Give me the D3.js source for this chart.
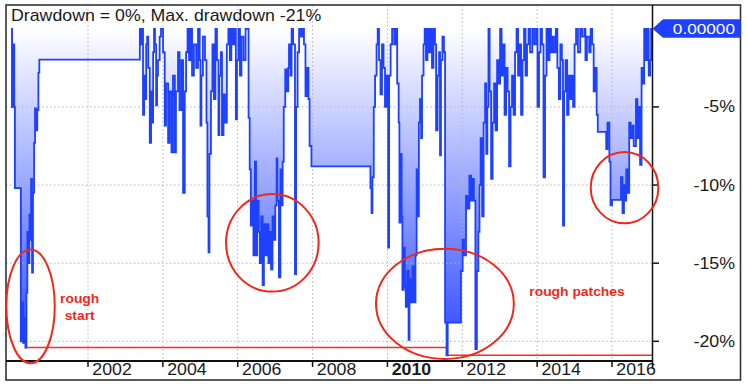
<!DOCTYPE html>
<html lang="en">
<head>
<meta charset="UTF-8">
<title>Drawdown</title>
<script src="https://d3js.org/d3.v7.min.js"></script>
<style>
  body { margin: 0; background: #fff; }
  svg { display: block; }
  text { font-family: "Liberation Sans", Arial, sans-serif; }
</style>
</head>
<body>
<div id="chart"></div>
<script>
// drawdown series (decimal year, percent)
const dates = [
  1999.95, 1999.97, 2000.01, 2000.03, 2000.045, 2000.205, 2000.24, 2000.27, 2000.29, 2000.33,
  2000.355, 2000.38, 2000.405, 2000.435, 2000.46, 2000.48, 2000.505, 2000.53, 2000.56, 2000.585,
  2000.62, 2000.645, 2000.675, 2000.70,
  2003.385, 2003.42, 2003.45, 2003.47, 2003.50, 2003.53, 2003.555, 2003.58, 2003.61, 2003.65,
  2003.685, 2003.71, 2003.74, 2003.765, 2003.79, 2003.82, 2003.845, 2003.87, 2003.915, 2003.95,
  2004.005, 2004.05, 2004.085, 2004.14, 2004.18, 2004.23, 2004.27, 2004.32, 2004.35, 2004.405,
  2004.445, 2004.495, 2004.54, 2004.585, 2004.62, 2004.66, 2004.70, 2004.74, 2004.78, 2004.83,
  2004.89, 2004.94, 2004.985, 2005.005, 2005.03, 2005.07, 2005.125, 2005.165, 2005.19, 2005.22,
  2005.245, 2005.285, 2005.325, 2005.365, 2005.405, 2005.445, 2005.485, 2005.51, 2005.55, 2005.58,
  2005.62, 2005.66, 2005.71, 2005.75, 2005.79, 2005.83, 2005.87, 2005.91, 2005.95, 2005.98,
  2006.02, 2006.06, 2006.10, 2006.155, 2006.21,
  2006.29, 2006.32, 2006.35, 2006.39, 2006.42, 2006.46, 2006.49, 2006.52, 2006.56, 2006.59,
  2006.63, 2006.665, 2006.70, 2006.74, 2006.78, 2006.82, 2006.86, 2006.89, 2006.93, 2006.97,
  2007.005, 2007.04, 2007.06, 2007.10, 2007.14, 2007.17, 2007.20, 2007.23, 2007.27, 2007.31,
  2007.35, 2007.37, 2007.41, 2007.44, 2007.48, 2007.53, 2007.56, 2007.60, 2007.64, 2007.69,
  2007.73, 2007.77, 2007.81, 2007.85, 2007.89, 2007.92, 2007.97,
  2009.545, 2009.575, 2009.60, 2009.635, 2009.67, 2009.71, 2009.74, 2009.775, 2009.815, 2009.855,
  2009.895, 2009.935, 2009.975, 2010.02, 2010.045, 2010.085, 2010.125, 2010.18, 2010.22, 2010.26,
  2010.30, 2010.32, 2010.35, 2010.38, 2010.40, 2010.435, 2010.465, 2010.49, 2010.53, 2010.565,
  2010.59, 2010.63, 2010.67, 2010.71, 2010.75, 2010.78, 2010.81, 2010.84, 2010.87, 2010.90,
  2010.925, 2010.965, 2010.995, 2011.03, 2011.07, 2011.11, 2011.15, 2011.19, 2011.23, 2011.27,
  2011.30, 2011.34, 2011.38, 2011.405, 2011.43, 2011.47, 2011.51, 2011.54, 2011.58, 2011.61,
  2011.965, 2012.01, 2012.045, 2012.10, 2012.14, 2012.19, 2012.235, 2012.275, 2012.31, 2012.35,
  2012.39, 2012.43, 2012.46, 2012.49, 2012.53, 2012.57, 2012.61, 2012.64, 2012.67, 2012.70,
  2012.73, 2012.77, 2012.81, 2012.85, 2012.89, 2012.93, 2012.97, 2013.01, 2013.05, 2013.09,
  2013.13, 2013.17, 2013.21, 2013.25, 2013.29, 2013.33, 2013.37, 2013.41, 2013.45, 2013.49,
  2013.53, 2013.57, 2013.61, 2013.65, 2013.69, 2013.73, 2013.77, 2013.81, 2013.87, 2013.92,
  2013.97, 2014.01, 2014.05, 2014.09, 2014.13, 2014.17, 2014.21, 2014.25, 2014.29, 2014.33,
  2014.37, 2014.41, 2014.45, 2014.50, 2014.54, 2014.58, 2014.62, 2014.66, 2014.69, 2014.72,
  2014.76, 2014.80, 2014.84, 2014.88, 2014.92, 2014.96, 2015.00, 2015.04, 2015.09, 2015.15,
  2015.20, 2015.26, 2015.29, 2015.33, 2015.39, 2015.43, 2015.47, 2015.51, 2015.55, 2015.59,
  2015.62, 2015.845, 2015.88, 2015.93, 2015.96, 2016.00, 2016.24, 2016.28, 2016.32, 2016.34,
  2016.38, 2016.42, 2016.46, 2016.50, 2016.55, 2016.58, 2016.64, 2016.68, 2016.72, 2016.75,
  2016.79, 2016.82, 2016.86, 2016.90, 2016.94, 2016.98, 2017.02, 2017.045, 2017.07
];
const drawdown = [
  0, -5.0, -1.0, -5.0, -10.2, -20.0, -17.5, -20.1, -18.5, -20.4,
  -16.9, -13.0, -15.0, -11.9, -13.5, -9.6, -15.6, -10.5, -7.3, -5.1,
  -6.5, -5.2, -2.8, -1.97,
  0, -1.0, 0, -5.5, -3.0, -4.5, -1.0, -0.5, -2.5, -7.3,
  -4.0, -6.0, -1.5, 0, -1.0, -4.9, -3.0, -2.0, -0.5, 0,
  -1.5, -6.2, -3.5, -7.3, -4.0, -7.9, -3.0, -7.9, -4.0, -1.5,
  -5.2, -2.0, -10.5, -4.0, -1.5, 0, -2.0, 0, -3.0, -1.0,
  -2.5, 0, -2.0, -6.2, -3.0, -0.5, -2.0, -6.0, -12.0, -14.3,
  -8.0, -4.0, -1.0, -4.5, 0, -2.0, -6.8, -3.0, -1.5, -6.8,
  -4.2, -6.0, -1.0, 0, -2.0, 0, -1.0, 0, -5.8, -2.0,
  0, -3.0, -0.5, -2.0, 0,
  -5.7, -9.0, -12.6, -11.0, -14.5, -8.5, -14.5, -11.0, -13.0, -15.0,
  -12.0, -16.4, -12.5, -14.5, -12.5, -15.0, -13.0, -15.4, -12.0, -13.5,
  -11.3, -8.3, -11.0, -15.9, -9.0, -11.3, -8.5, -5.0, -2.6, -4.0,
  -2.5, -1.0, -3.0, 0, -1.0, -15.7, -5.0, -1.5, 0, -0.5,
  0, -1.0, -4.3, -2.5, -4.5, -7.5, -8.8,
  -10.2, -11.8, -9.5, -5.0, -3.0, -1.0, 0, -2.0, -4.2, -1.0,
  -2.5, -5.0, -3.0, -14.0, -3.0, -1.0, 0, -1.0, 0, -3.5,
  -6.0, -12.4, -8.0, -12.0, -16.7, -14.0, -16.5, -17.8, -15.5, -19.9,
  -16.0, -17.5, -15.2, -17.5, -14.5, -9.0, -12.0, -6.0, -4.5, -7.0,
  -3.0, -1.0, 0, -2.0, 0, -1.5, 0, -2.5, 0, -1.0,
  -6.5, -3.0, -1.5, -8.1, -2.0, -0.5, -1.5, -18.8, -20.9, -18.8,
  -15.5, -13.5, -14.5, -10.7, -11.5, -9.4, -11.0, -9.6, -11.0, -20.5,
  -15.5, -13.0, -10.0, -7.0, -12.0, -6.0, -3.5, -8.0, -5.0, 0,
  -4.0, -9.6, -6.0, -3.5, -6.5, -2.0, -3.5, 0, -3.0, -1.0,
  -5.5, -2.5, -4.0, -8.8, -5.0, -3.0, -5.5, -1.5, 0, -3.0,
  -1.0, -5.5, -2.0, 0, -3.0, -1.0, 0, -1.5, 0, -1.0,
  0, -5.0, -1.5, 0, -1.0, -9.5, -3.0, 0, -2.0, 0,
  -1.5, -0.5, -1.5, 0, -2.5, -4.5, -1.0, -2.0, -12.6, -4.0,
  -2.0, -5.5, -3.0, -4.5, -3.0, -5.0, -1.0, 0, -1.5, 0,
  -0.5, 0, -2.0, -0.5, -1.5, 0, -1.0, -4.0, -2.5, -5.5,
  -6.6, -7.7, -6.0, -8.5, -11.3, -10.95, -9.5, -11.8, -10.0, -11.0,
  -9.0, -10.5, -6.0, -7.0, -6.2, -7.5, -4.5, -7.0, -5.0, -8.7,
  -2.5, -3.5, 0, -2.0, 0, -3.0, -2.0, 0, 0
];

const yearTicks = [2002, 2004, 2006, 2008, 2010, 2012, 2014, 2016];
const pctTicks = [-5, -10, -15, -20];
const titleText = "Drawdown = 0%, Max. drawdown -21%";
const lastValueText = "0.00000";

// red annotations, in data units (center year / percent, half-widths)
const rings = [
  { year: 2000.465, pct: -17.76, dYear: 0.647, dPct: 3.64 },
  { year: 2006.925, pct: -13.70, dYear: 1.237, dPct: 3.12 },
  { year: 2011.536, pct: -17.60, dYear: 1.841, dPct: 3.53 },
  { year: 2016.335, pct: -10.17, dYear: 0.903, dPct: 2.28 }
];
const notes = [
  { text: "rough", year: 2001.777, pct: -17.55, anchor: "middle" },
  { text: "start", year: 2001.777, pct: -18.62, anchor: "middle" },
  { text: "rough patches", year: 2013.79, pct: -17.10, anchor: "start" }
];

const width = 747, height = 388;
const frame = { left: 6, top: 5, right: 740.5, bottom: 380 };
const plotRight = 652.5, axisY = 361;
const stretch = "scale(1.11,1)";

const x = d3.scaleLinear().domain([2002, 2016]).range([88, 612]);
const y = d3.scaleLinear().domain([0, -20]).range([28.8, 341.3]);

const series = dates.map((d, i) => ({ date: d, value: drawdown[i] }));
let low = 0;
const maxDD = series.map(d => ({ date: d.date, value: (low = Math.min(low, d.value)) }));

const svg = d3.select("#chart").append("svg")
  .attr("width", width)
  .attr("height", height);

const defs = svg.append("defs");
const grad = defs.append("linearGradient")
  .attr("id", "ddFill")
  .attr("gradientUnits", "userSpaceOnUse")
  .attr("x1", 0).attr("x2", 0)
  .attr("y1", y(0)).attr("y2", y(-21));
grad.append("stop").attr("offset", "0%").attr("stop-color", "#ffffff");
grad.append("stop").attr("offset", "100%").attr("stop-color", "#2a46ff");

defs.append("clipPath").attr("id", "plotClip")
  .append("rect")
  .attr("x", frame.left).attr("y", frame.top)
  .attr("width", plotRight - frame.left).attr("height", axisY - frame.top);

const plot = svg.append("g").attr("clip-path", "url(#plotClip)");

// gradient area between zero and the drawdown
const area = d3.area()
  .x(d => x(d.date))
  .y0(y(0))
  .y1(d => y(d.value))
  .curve(d3.curveStepAfter);

plot.append("path")
  .datum(series)
  .attr("d", area)
  .attr("fill", "url(#ddFill)");

// dotted grid
plot.selectAll(".hgrid")
  .data(pctTicks)
  .join("line")
  .attr("x1", frame.left).attr("x2", plotRight)
  .attr("y1", d => y(d)).attr("y2", d => y(d))
  .attr("stroke", "#b4b4b4")
  .attr("stroke-dasharray", "1.5,2.5");

plot.selectAll(".vgrid")
  .data(yearTicks)
  .join("line")
  .attr("x1", d => x(d)).attr("x2", d => x(d))
  .attr("y1", frame.top).attr("y2", axisY)
  .attr("stroke", "#b4b4b4")
  .attr("stroke-dasharray", "1.5,2.5");

const line = d3.line()
  .x(d => x(d.date))
  .y(d => y(d.value))
  .curve(d3.curveStepAfter);

// running max drawdown
plot.append("path")
  .datum(maxDD)
  .attr("d", line)
  .attr("fill", "none")
  .attr("stroke", "#ff2a20")
  .attr("stroke-width", 1.5);

plot.append("path")
  .datum(series)
  .attr("d", line)
  .attr("fill", "none")
  .attr("stroke", "#1e40ff")
  .attr("stroke-width", 1.8);

// frame and axes
svg.append("rect")
  .attr("x", frame.left).attr("y", frame.top)
  .attr("width", frame.right - frame.left).attr("height", frame.bottom - frame.top)
  .attr("fill", "none")
  .attr("stroke", "#333")
  .attr("stroke-width", 1.6);

svg.append("line")
  .attr("x1", frame.left).attr("x2", plotRight)
  .attr("y1", axisY).attr("y2", axisY)
  .attr("stroke", "#111").attr("stroke-width", 2);

svg.append("line")
  .attr("x1", plotRight).attr("x2", plotRight)
  .attr("y1", frame.top).attr("y2", 369)
  .attr("stroke", "#111").attr("stroke-width", 1.5);

// x ticks and labels
svg.selectAll(".xtick")
  .data(yearTicks)
  .join("line")
  .attr("x1", d => x(d)).attr("x2", d => x(d))
  .attr("y1", axisY).attr("y2", 367)
  .attr("stroke", "#111").attr("stroke-width", 1.5);

svg.selectAll(".xlabel")
  .data(yearTicks)
  .join("text")
  .attr("transform", d => `translate(${x(d) + 4.3},375.3) ${stretch}`)
  .attr("font-size", 16)
  .attr("font-weight", d => d === 2010 ? "bold" : "normal")
  .attr("fill", "#1a1a1a")
  .text(d => d);

// y ticks and labels on the right
svg.selectAll(".ytick")
  .data(pctTicks)
  .join("line")
  .attr("x1", plotRight).attr("x2", 659)
  .attr("y1", d => y(d)).attr("y2", d => y(d))
  .attr("stroke", "#111").attr("stroke-width", 1.5);

svg.selectAll(".ylabel")
  .data(pctTicks)
  .join("text")
  .attr("transform", d => `translate(735,${y(d) + 5.5}) ${stretch}`)
  .attr("text-anchor", "end")
  .attr("font-size", 16)
  .attr("fill", "#1a1a1a")
  .text(d => d + "%");

// last value marker
const y0 = y(0);
svg.append("path")
  .attr("d", `M${plotRight},${y0} L663,${y0 - 9.5} L${frame.right},${y0 - 9.5} L${frame.right},${y0 + 9} L663,${y0 + 9} Z`)
  .attr("fill", "#1e40ff");

svg.append("text")
  .attr("transform", `translate(735,${y0 + 5.5}) ${stretch}`)
  .attr("text-anchor", "end")
  .attr("font-size", 15.5)
  .attr("fill", "#fff")
  .text(lastValueText);

// title
svg.append("text")
  .attr("transform", `translate(11,20.7) ${stretch}`)
  .attr("font-size", 16)
  .attr("fill", "#1a1a1a")
  .text(titleText);

// red annotations
svg.selectAll(".ring")
  .data(rings)
  .join("ellipse")
  .attr("cx", d => x(d.year))
  .attr("cy", d => y(d.pct))
  .attr("rx", d => x(d.year + d.dYear) - x(d.year))
  .attr("ry", d => y(d.pct - d.dPct) - y(d.pct))
  .attr("fill", "none")
  .attr("stroke", "#f0281c")
  .attr("stroke-width", 2);

svg.selectAll(".note")
  .data(notes)
  .join("text")
  .attr("transform", d => `translate(${x(d.year)},${y(d.pct)}) ${stretch}`)
  .attr("text-anchor", d => d.anchor)
  .attr("font-size", 12.5)
  .attr("font-weight", "bold")
  .attr("fill", "#f0281c")
  .text(d => d.text);
</script>
</body>
</html>
